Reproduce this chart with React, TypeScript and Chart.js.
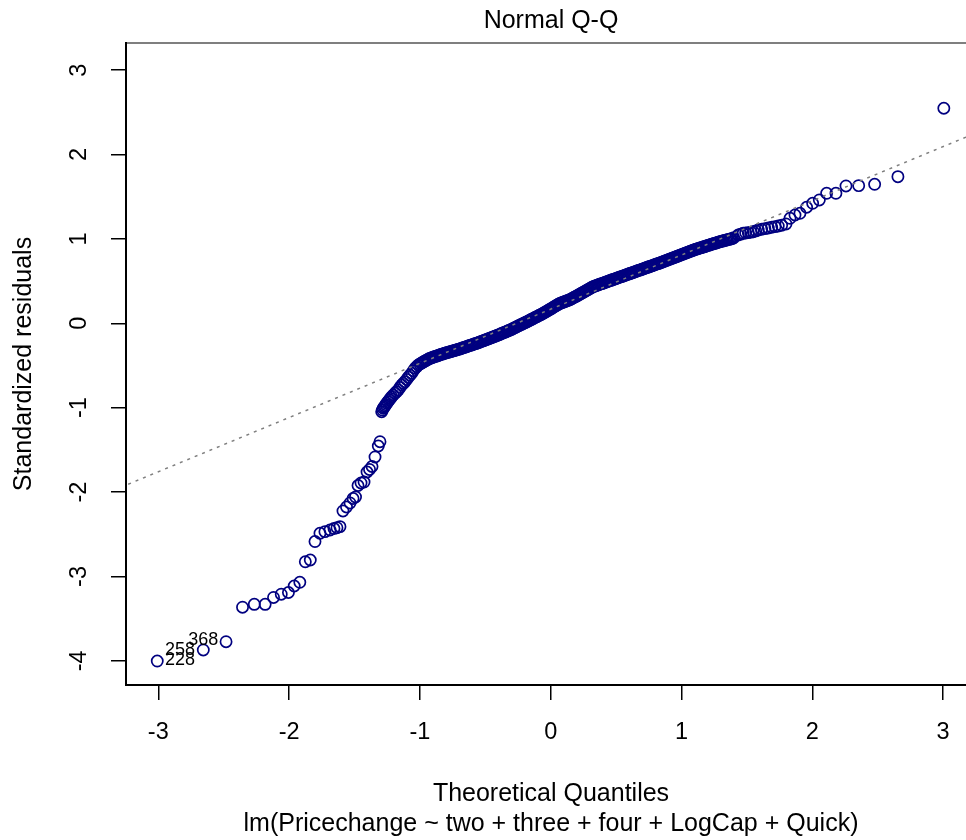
import React, { useEffect, useRef } from "react";
import { Chart, registerables } from "chart.js";

Chart.register(...registerables);

// ---- data ----
// Theoretical quantiles (x) and standardized residuals (y), lower tail
const lowerTailX = [
  -3.008, -2.656, -2.482, -2.356, -2.266, -2.183, -2.119, -2.06, -2.005, -1.961,
  -1.918, -1.876, -1.838, -1.802, -1.764, -1.726, -1.687, -1.657, -1.634, -1.611,
  -1.588, -1.561, -1.534, -1.511, -1.492, -1.473, -1.45, -1.427, -1.404, -1.385,
  -1.366, -1.343, -1.318, -1.305,
];
const lowerTailY = [
  -4.002, -3.871, -3.773, -3.364, -3.33, -3.33, -3.249, -3.21, -3.19, -3.113,
  -3.069, -2.826, -2.805, -2.586, -2.488, -2.469, -2.449, -2.432, -2.422, -2.41,
  -2.224, -2.177, -2.129, -2.076, -2.058, -1.922, -1.892, -1.881, -1.762, -1.732,
  -1.697, -1.584, -1.454, -1.403,
];

// steep cluster just above the gap
const clusterX = [
  -1.292, -1.286, -1.28, -1.273, -1.267, -1.26, -1.254, -1.244, -1.234, -1.225,
  -1.216, -1.203, -1.19, -1.178, -1.165, -1.152, -1.139, -1.126, -1.114, -1.101,
  -1.089, -1.076, -1.063, -1.05, -1.037, -1.024, -1.012,
];
const clusterY = [
  -1.048, -1.028, -1.007, -0.993, -0.98, -0.964, -0.948, -0.929, -0.909, -0.89,
  -0.87, -0.85, -0.829, -0.81, -0.79, -0.76, -0.731, -0.712, -0.692, -0.666,
  -0.64, -0.616, -0.592, -0.562, -0.533, -0.513, -0.494,
];

// dense central band
const bandX = [
  -1.0, -0.99, -0.98, -0.97, -0.96, -0.95, -0.94, -0.93, -0.92, -0.91,
  -0.9, -0.89, -0.88, -0.87, -0.86, -0.85, -0.84, -0.83, -0.82, -0.81,
  -0.8, -0.79, -0.78, -0.77, -0.76, -0.75, -0.74, -0.73, -0.72, -0.71,
  -0.7, -0.69, -0.68, -0.67, -0.66, -0.65, -0.64, -0.63, -0.62, -0.61,
  -0.6, -0.59, -0.58, -0.57, -0.56, -0.55, -0.54, -0.53, -0.52, -0.51,
  -0.5, -0.49, -0.48, -0.47, -0.46, -0.45, -0.44, -0.43, -0.42, -0.41,
  -0.4, -0.39, -0.38, -0.37, -0.36, -0.35, -0.34, -0.33, -0.32, -0.31,
  -0.3, -0.29, -0.28, -0.27, -0.26, -0.25, -0.24, -0.23, -0.22, -0.21,
  -0.2, -0.19, -0.18, -0.17, -0.16, -0.15, -0.14, -0.13, -0.12, -0.11,
  -0.1, -0.09, -0.08, -0.07, -0.06, -0.05, -0.04, -0.03, -0.02, -0.01,
  0.0, 0.01, 0.02, 0.03, 0.04, 0.05, 0.06, 0.07, 0.08, 0.09,
  0.1, 0.11, 0.12, 0.13, 0.14, 0.15, 0.16, 0.17, 0.18, 0.19,
  0.2, 0.21, 0.22, 0.23, 0.24, 0.25, 0.26, 0.27, 0.28, 0.29,
  0.3, 0.31, 0.32, 0.33, 0.34, 0.35, 0.36, 0.37, 0.38, 0.39,
  0.4, 0.41, 0.42, 0.43, 0.44, 0.45, 0.46, 0.47, 0.48, 0.49,
  0.5, 0.51, 0.52, 0.53, 0.54, 0.55, 0.56, 0.57, 0.58, 0.59,
  0.6, 0.61, 0.62, 0.63, 0.64, 0.65, 0.66, 0.67, 0.68, 0.69,
  0.7, 0.71, 0.72, 0.73, 0.74, 0.75, 0.76, 0.77, 0.78, 0.79,
  0.8, 0.81, 0.82, 0.83, 0.84, 0.85, 0.86, 0.87, 0.88, 0.89,
  0.9, 0.91, 0.92, 0.93, 0.94, 0.95, 0.96, 0.97, 0.98, 0.99,
  1.0, 1.01, 1.02, 1.03, 1.04, 1.05, 1.06, 1.07, 1.08, 1.09,
  1.1, 1.11, 1.12, 1.13, 1.14, 1.15, 1.16, 1.17, 1.18, 1.19,
  1.2, 1.21, 1.22, 1.23, 1.24, 1.25, 1.26, 1.27, 1.28, 1.29,
  1.3, 1.31, 1.32, 1.33, 1.34, 1.35, 1.36, 1.37, 1.38, 1.39,
  1.4,
];
const bandY = [
  -0.483, -0.473, -0.464, -0.455, -0.446, -0.437, -0.429, -0.421, -0.413, -0.408,
  -0.403, -0.397, -0.392, -0.386, -0.381, -0.376, -0.37, -0.365, -0.36, -0.355,
  -0.351, -0.346, -0.342, -0.337, -0.333, -0.328, -0.324, -0.319, -0.315, -0.31,
  -0.306, -0.3, -0.295, -0.29, -0.285, -0.28, -0.274, -0.269, -0.264, -0.259,
  -0.254, -0.249, -0.243, -0.238, -0.233, -0.227, -0.221, -0.215, -0.209, -0.204,
  -0.198, -0.192, -0.186, -0.18, -0.174, -0.168, -0.163, -0.156, -0.15, -0.143,
  -0.137, -0.131, -0.124, -0.118, -0.111, -0.105, -0.099, -0.092, -0.086, -0.079,
  -0.072, -0.064, -0.056, -0.049, -0.041, -0.033, -0.026, -0.018, -0.01, -0.003,
  0.005, 0.013, 0.02, 0.028, 0.036, 0.044, 0.052, 0.06, 0.068, 0.076,
  0.084, 0.092, 0.1, 0.108, 0.116, 0.125, 0.134, 0.143, 0.152, 0.162,
  0.171, 0.18, 0.19, 0.199, 0.208, 0.217, 0.227, 0.236, 0.242, 0.248,
  0.253, 0.259, 0.264, 0.27, 0.276, 0.282, 0.29, 0.299, 0.308, 0.316,
  0.325, 0.334, 0.342, 0.351, 0.36, 0.369, 0.377, 0.386, 0.395, 0.403,
  0.412, 0.421, 0.43, 0.437, 0.443, 0.448, 0.454, 0.459, 0.465, 0.47,
  0.476, 0.481, 0.487, 0.493, 0.498, 0.504, 0.509, 0.515, 0.52, 0.526,
  0.531, 0.537, 0.542, 0.548, 0.553, 0.559, 0.564, 0.57, 0.575, 0.581,
  0.586, 0.592, 0.597, 0.603, 0.608, 0.614, 0.619, 0.625, 0.63, 0.636,
  0.641, 0.647, 0.652, 0.658, 0.663, 0.669, 0.674, 0.68, 0.685, 0.691,
  0.696, 0.702, 0.707, 0.713, 0.718, 0.724, 0.73, 0.736, 0.742, 0.748,
  0.754, 0.76, 0.766, 0.772, 0.778, 0.784, 0.789, 0.795, 0.801, 0.807,
  0.813, 0.819, 0.825, 0.831, 0.837, 0.843, 0.849, 0.855, 0.861, 0.867,
  0.872, 0.877, 0.882, 0.887, 0.892, 0.896, 0.901, 0.906, 0.911, 0.916,
  0.921, 0.926, 0.931, 0.936, 0.941, 0.945, 0.95, 0.955, 0.96, 0.965,
  0.969, 0.973, 0.977, 0.981, 0.985, 0.989, 0.993, 0.997, 1.001, 1.005,
  1.013,
];

// upper tail
const upperTailX = [
  1.434, 1.453, 1.472, 1.491, 1.511, 1.53, 1.549, 1.568, 1.587, 1.613,
  1.638, 1.664, 1.69, 1.715, 1.74, 1.766, 1.799, 1.83, 1.868, 1.906,
  1.957, 2.003, 2.054, 2.11, 2.181, 2.258, 2.355, 2.477, 2.655, 3.006,
];
const upperTailY = [
  1.046, 1.056, 1.066, 1.07, 1.074, 1.08, 1.085, 1.095, 1.106, 1.114,
  1.121, 1.129, 1.138, 1.145, 1.153, 1.161, 1.177, 1.244, 1.283, 1.303,
  1.375, 1.422, 1.461, 1.54, 1.54, 1.627, 1.631, 1.647, 1.737, 2.548,
];

// reference line (qqline) through the quartiles
const qqIntercept = 0.167;
const qqSlope = 0.642;
const qqLineX = [-3.4, 3.4];

// labelled observations
const idLabels = ["228", "258", "368"];
const idLabelX = [-2.949, -2.949, -2.771];
const idLabelY = [-3.996, -3.868, -3.749];

// axes
const xTicks = [-3, -2, -1, 0, 1, 2, 3];
const yTicks = [-4, -3, -2, -1, 0, 1, 2, 3];
const xRange = [-3.247, 3.252];
const yRange = [-4.286, 3.321];

const titleText = "Normal Q-Q";
const xTitle = "Theoretical Quantiles";
const subTitle = "lm(Pricechange ~ two + three + four + LogCap + Quick)";
const yTitle = "Standardized residuals";

const FONT = '"Liberation Sans", Arial, Helvetica, sans-serif';
const POINT_COLOR = "#000080";
const TICK_SIZE = 23.5;
const LAB_SIZE = 25;

function zip(xs: number[], ys: number[]) {
  return xs.map((x, i) => ({ x, y: ys[i] }));
}

const decorPlugin = {
  id: "rDecor",
  afterDraw(chart: any) {
    const { ctx, chartArea, scales } = chart;
    const xs = scales.x;
    const ys = scales.y;
    const cx = (chartArea.left + chartArea.right) / 2;
    ctx.save();
    // top / right box edges
    ctx.strokeStyle = "#000";
    ctx.lineWidth = 1.2;
    ctx.beginPath();
    ctx.moveTo(chartArea.left, chartArea.top);
    ctx.lineTo(chartArea.right, chartArea.top);
    ctx.lineTo(chartArea.right, chartArea.bottom);
    ctx.stroke();

    ctx.fillStyle = "#000";
    // title
    ctx.textAlign = "center";
    ctx.textBaseline = "alphabetic";
    ctx.font = `${LAB_SIZE}px ${FONT}`;
    ctx.fillText(titleText, cx, 28);
    // x title and sub title
    ctx.fillText(xTitle, cx, 801);
    ctx.fillText(subTitle, cx, 831);

    // y tick labels (rotated, R style)
    ctx.font = `${TICK_SIZE}px ${FONT}`;
    yTicks.forEach((v) => {
      const py = ys.getPixelForValue(v);
      ctx.save();
      ctx.translate(85.5, py);
      ctx.rotate(-Math.PI / 2);
      ctx.textAlign = "center";
      ctx.textBaseline = "alphabetic";
      ctx.fillText(String(v), 0, 0);
      ctx.restore();
    });

    // y title
    ctx.save();
    ctx.translate(31, (chartArea.top + chartArea.bottom) / 2);
    ctx.rotate(-Math.PI / 2);
    ctx.font = `${LAB_SIZE}px ${FONT}`;
    ctx.textAlign = "center";
    ctx.textBaseline = "alphabetic";
    ctx.fillText(yTitle, 0, 0);
    ctx.restore();

    // point id labels
    ctx.font = `18px ${FONT}`;
    ctx.textAlign = "left";
    ctx.textBaseline = "middle";
    idLabels.forEach((t, i) => {
      ctx.fillText(t, xs.getPixelForValue(idLabelX[i]), ys.getPixelForValue(idLabelY[i]));
    });
    ctx.restore();
  },
};

export default function App() {
  const ref = useRef<HTMLCanvasElement>(null);

  useEffect(() => {
    if (!ref.current) return;
    const points = [
      ...zip(lowerTailX, lowerTailY),
      ...zip(clusterX, clusterY),
      ...zip(bandX, bandY),
      ...zip(upperTailX, upperTailY),
    ];
    const linePts = qqLineX.map((x) => ({ x, y: qqIntercept + qqSlope * x }));

    const chart = new Chart(ref.current, {
      type: "scatter",
      data: {
        datasets: [
          {
            type: "line",
            data: linePts,
            borderColor: "#7f7f7f",
            borderWidth: 1.5,
            borderDash: [3, 5],
            pointRadius: 0,
            fill: false,
            order: 0,
          } as any,
          {
            type: "scatter",
            data: points,
            pointRadius: 5.6,
            pointHoverRadius: 5.6,
            borderWidth: 1.7,
            borderColor: POINT_COLOR,
            backgroundColor: "rgba(0,0,0,0)",
            order: 1,
          } as any,
        ],
      },
      options: {
        animation: false,
        responsive: false,
        devicePixelRatio: 1,
        events: [],
        layout: { padding: { left: 0, right: 24, top: 43, bottom: 0 } },
        plugins: {
          legend: { display: false },
          tooltip: { enabled: false },
          title: { display: false },
        },
        scales: {
          x: {
            type: "linear",
            position: "bottom",
            min: xRange[0],
            max: xRange[1],
            afterBuildTicks: (s: any) => {
              s.ticks = xTicks.map((v) => ({ value: v }));
            },
            afterFit: (s: any) => {
              s.height = 155;
            },
            grid: {
              display: true,
              drawOnChartArea: false,
              drawTicks: true,
              tickLength: 15,
              color: "#000",
              lineWidth: 1.5,
            },
            border: { display: true, color: "#000", width: 2 },
            ticks: {
              color: "#000",
              font: { family: FONT, size: TICK_SIZE },
              padding: 18,
              maxRotation: 0,
              autoSkip: false,
              callback: (v: any) => String(v),
            },
          },
          y: {
            type: "linear",
            position: "left",
            min: yRange[0],
            max: yRange[1],
            afterBuildTicks: (s: any) => {
              s.ticks = yTicks.map((v) => ({ value: v }));
            },
            afterFit: (s: any) => {
              s.width = 126;
            },
            grid: {
              display: true,
              drawOnChartArea: false,
              drawTicks: true,
              tickLength: 15,
              color: "#000",
              lineWidth: 1.5,
            },
            border: { display: true, color: "#000", width: 2 },
            ticks: { display: false },
          },
        },
      } as any,
      plugins: [decorPlugin],
    });
    return () => chart.destroy();
  }, []);

  return (
    <div
      style={{
        position: "fixed",
        left: 0,
        top: 0,
        width: 966,
        height: 840,
        overflow: "hidden",
        background: "#fff",
      }}
    >
      <canvas ref={ref} width={1000} height={840} style={{ width: 1000, height: 840, display: "block" }} />
    </div>
  );
}
